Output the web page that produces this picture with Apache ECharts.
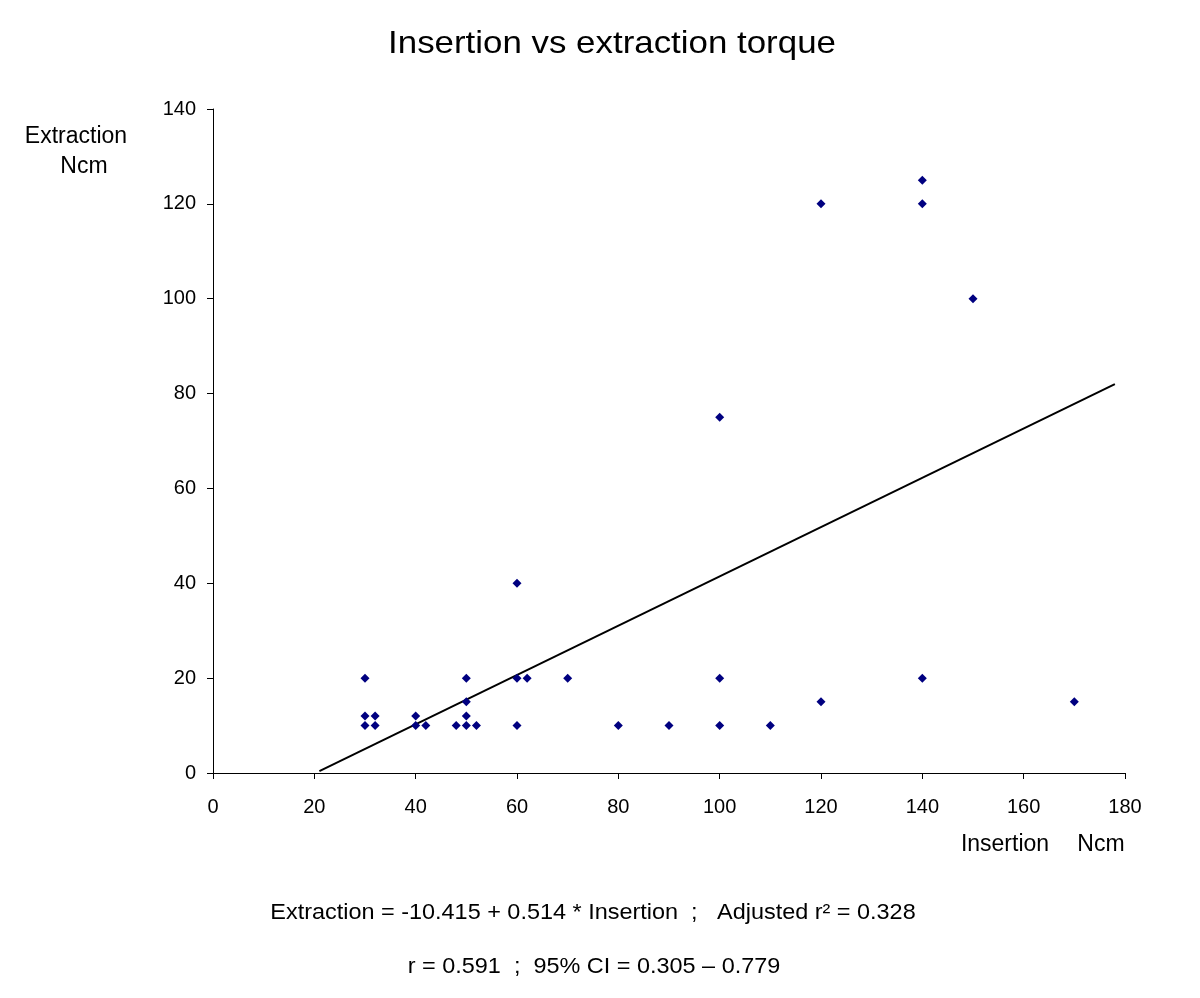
<!DOCTYPE html>
<html>
<head>
<meta charset="utf-8">
<script src="https://cdn.jsdelivr.net/npm/echarts@6/dist/echarts.min.js"></script>
<style>
html,body{margin:0;padding:0;background:#fff;}
#chart{width:1200px;height:998px;}
</style>
</head>
<body>
<div id="chart"></div>
<script>
// Data
var insertion  = [30,30,30,32,32,40,40,42,48,50,50,50,50,52,60,60,60,62,70,80,90,100,100,100,110,120,120,140,140,140,150,170];
var extraction = [20,12,10,12,10,12,10,10,10,10,12,15,20,10,40,20,10,20,20,10,10,10,20,75,10,15,120,20,120,125,100,15];
// Regression line end points as drawn in the picture
var trendX = [21, 178];
var trendY = [0.4, 82];
var xTicks = [0,20,40,60,80,100,120,140,160,180];
var yTicks = [0,20,40,60,80,100,120,140];

var titleText = 'Insertion vs extraction torque';
var eqLine1 = 'Extraction = -10.415 + 0.514 * Insertion  ;   Adjusted r\u00B2 = 0.328';
var eqLine2 = 'r = 0.591  ;  95% CI = 0.305 \u2013 0.779';

var FONT = '"Liberation Sans", Arial, Helvetica, sans-serif';

var points = insertion.map(function (x, i) { return [x, extraction[i]]; });
var trend = trendX.map(function (x, i) { return [x, trendY[i]]; });

function txt(s, x, y, size, sx) {
  return {type: 'text', x: x, y: y, scaleX: sx || 1,
    style: {text: s, font: size + 'px ' + FONT, fill: '#000', align: 'center', verticalAlign: 'middle'}};
}

var chart = echarts.init(document.getElementById('chart'), null, {renderer: 'canvas'});
chart.setOption({
  animation: false,
  backgroundColor: '#ffffff',
  grid: {left: 213, right: 75, top: 109, bottom: 225, containLabel: false},
  xAxis: {
    type: 'value',
    min: xTicks[0], max: xTicks[xTicks.length - 1], interval: xTicks[1] - xTicks[0],
    axisLine: {show: true, onZero: false, lineStyle: {color: '#000', width: 1}},
    axisTick: {show: true, inside: false, length: 6, lineStyle: {color: '#000', width: 1}},
    axisLabel: {color: '#000', fontSize: 20, fontFamily: FONT, margin: 24},
    splitLine: {show: false}
  },
  yAxis: {
    type: 'value',
    min: yTicks[0], max: yTicks[yTicks.length - 1], interval: yTicks[1] - yTicks[0],
    axisLine: {show: true, onZero: false, lineStyle: {color: '#000', width: 1}},
    axisTick: {show: true, inside: false, length: 6, lineStyle: {color: '#000', width: 1}},
    axisLabel: {color: '#000', fontSize: 20, fontFamily: FONT, margin: 17},
    splitLine: {show: false}
  },
  series: [
    {
      type: 'line',
      data: trend,
      symbol: 'none',
      lineStyle: {color: '#000', width: 2},
      silent: true,
      z: 2
    },
    {
      type: 'scatter',
      data: points,
      symbol: 'diamond',
      symbolSize: 9,
      itemStyle: {color: '#000080', opacity: 1},
      z: 3
    }
  ],
  graphic: [
    txt(titleText, 612, 44, 32, 1.09),
    txt('Extraction', 76, 137, 23),
    txt('Ncm', 84, 167, 23),
    txt('Insertion', 1005, 845, 23),
    txt('Ncm', 1101, 845, 23),
    txt(eqLine1, 593, 913, 22, 1.065),
    txt(eqLine2, 594, 967, 22, 1.065)
  ]
});
</script>
</body>
</html>
